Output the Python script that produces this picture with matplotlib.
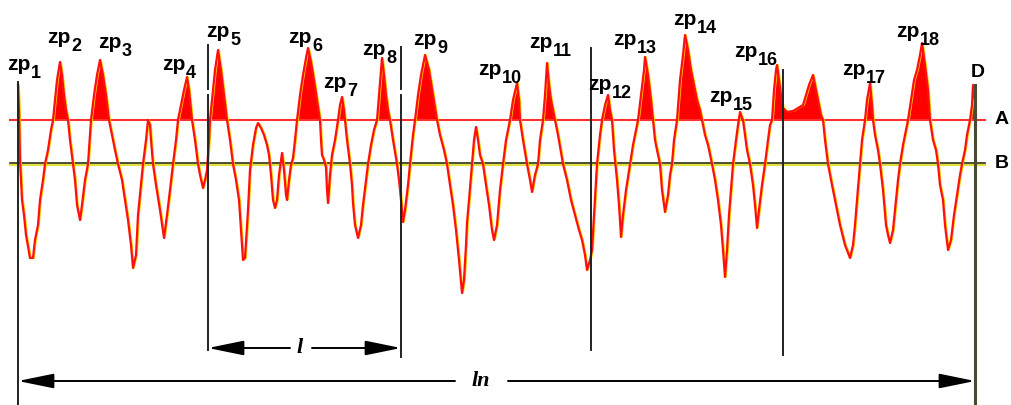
import matplotlib.pyplot as plt

# profile traced in picture pixels (x to the right, y downward)
profile_x = [18, 19, 20, 22, 24, 26, 30, 33, 35, 38, 40, 43, 45, 48, 51, 53, 55, 57, 60, 62, 64, 66, 68, 70, 73, 75, 77, 80,
             82, 85, 88, 90, 91, 94, 97, 100, 103, 106, 109, 112, 115, 118, 122, 125, 128, 131, 133, 136, 138, 141, 143,
             146, 148, 150, 151, 153, 156, 160, 164, 167, 170, 173, 176, 178, 181, 184, 187, 189, 191, 192, 195, 198,
             200, 203, 205, 207, 209, 210, 212, 215, 218, 221, 224, 227, 230, 233, 236, 239, 241, 243, 245, 248, 250,
             253, 256, 258, 261, 264, 267, 269, 271, 273, 275, 277, 279, 282, 284, 286, 287, 289, 291, 293, 295, 297,
             300, 303, 306, 308, 311, 314, 317, 320, 321, 322, 324, 326, 327, 328, 330, 332, 335, 338, 340, 342, 344,
             345, 347, 350, 352, 353, 355, 358, 361, 363, 366, 368, 371, 374, 377, 379, 381, 382, 384, 386, 388, 390,
             393, 397, 399, 401, 403, 405, 408, 410, 413, 415, 418, 421, 425, 429, 433, 437, 440, 444, 447, 450, 453,
             456, 459, 462, 464, 466, 467, 469, 472, 474, 476, 478, 480, 483, 486, 489, 492, 494, 497, 500, 503, 506,
             510, 513, 517, 519, 520, 523, 527, 530, 532, 535, 538, 540, 543, 545, 547, 549, 551, 553, 555, 558, 563,
             567, 571, 575, 579, 582, 585, 587, 590, 592, 594, 597, 600, 602, 605, 608, 610, 612, 614, 617, 619, 621,
             623, 626, 630, 633, 635, 638, 641, 644, 645, 648, 651, 653, 655, 657, 660, 662, 665, 668, 670, 672, 674,
             677, 680, 683, 685, 688, 691, 694, 697, 700, 702, 705, 708, 712, 715, 718, 721, 723, 725, 727, 729, 731,
             733, 736, 738, 740, 742, 743, 745, 747, 750, 753, 755, 757, 759, 762, 765, 768, 770, 772, 774, 776, 777,
             779, 781, 783, 787, 793, 798, 803, 806, 809, 813, 816, 819, 821, 823, 825, 828, 832, 836, 840, 845, 850,
             853, 855, 857, 860, 862, 865, 867, 870, 872, 873, 875, 878, 880, 883, 886, 888, 890, 893, 896, 898, 900,
             903, 906, 908, 911, 914, 917, 920, 922, 925, 928, 930, 933, 936, 938, 940, 943, 945, 948, 951, 954, 957,
             960, 962, 965, 967, 970, 972, 973, 975]
profile_y = [85, 110, 160, 200, 215, 235, 258, 258, 240, 225, 200, 180, 164, 150, 130, 120, 100, 80, 62, 75, 95, 110, 120,
             140, 164, 180, 205, 220, 205, 180, 164, 135, 120, 95, 75, 60, 75, 95, 120, 135, 150, 164, 180, 200, 220, 245,
             268, 255, 215, 185, 164, 140, 120, 125, 140, 164, 185, 210, 238, 215, 190, 164, 140, 120, 105, 90, 77, 90,
             110, 120, 140, 164, 175, 188, 180, 170, 140, 120, 100, 70, 50, 70, 95, 120, 140, 164, 180, 200, 230, 260,
             258, 210, 170, 145, 128, 123, 128, 135, 145, 155, 175, 200, 208, 200, 175, 153, 170, 195, 200, 180, 165,
             158, 140, 120, 95, 75, 58, 48, 62, 80, 100, 120, 140, 155, 160, 167, 190, 203, 175, 155, 140, 120, 105, 97,
             110, 120, 140, 164, 185, 203, 225, 238, 225, 205, 180, 164, 145, 130, 120, 95, 70, 58, 75, 95, 110, 120,
             140, 164, 180, 200, 222, 210, 185, 164, 135, 120, 95, 75, 55, 70, 95, 120, 135, 150, 164, 185, 205, 230,
             260, 293, 280, 245, 223, 200, 164, 140, 127, 140, 155, 164, 185, 205, 230, 240, 225, 190, 164, 140, 120,
             100, 83, 100, 120, 140, 164, 180, 192, 175, 164, 140, 120, 95, 63, 85, 100, 110, 120, 135, 164, 180, 200,
             215, 230, 240, 255, 270, 260, 250, 215, 164, 135, 120, 105, 95, 110, 120, 150, 180, 205, 237, 215, 190,
             164, 145, 135, 120, 95, 70, 57, 75, 100, 120, 140, 150, 164, 190, 212, 195, 175, 164, 140, 120, 80, 55, 35,
             50, 70, 85, 100, 110, 120, 135, 145, 164, 180, 200, 225, 250, 277, 250, 215, 190, 164, 140, 125, 112, 118,
             120, 135, 150, 164, 185, 205, 228, 210, 185, 164, 140, 125, 120, 90, 70, 65, 80, 95, 108, 112, 111, 108,
             105, 95, 85, 75, 90, 105, 115, 120, 140, 164, 185, 205, 225, 245, 258, 245, 225, 200, 164, 140, 120, 100,
             83, 105, 120, 135, 150, 164, 190, 225, 235, 243, 230, 200, 180, 164, 145, 130, 120, 100, 80, 70, 55, 43,
             65, 90, 120, 140, 150, 164, 185, 200, 225, 250, 240, 215, 195, 175, 164, 150, 135, 120, 105, 85, 100]

line_a = 120
line_b = 163

peak_names = ['1', '2', '3', '4', '5', '6', '7', '8', '9', '10', '11', '12', '13', '14', '15', '16', '17', '18']
peak_label_x = [7, 47, 98, 162, 206, 288, 323, 362, 413, 478, 529, 588, 613, 673, 709, 734, 842, 896]
peak_label_y = [70, 43, 48, 70, 37, 43, 88, 55, 45, 75, 48, 90, 45, 25, 102, 57, 75, 37]

# vertical section lines: x, top, bottom
sect_x = [18, 208, 401, 591, 783, 975]
sect_top = [82, 45, 47, 48, 70, 85]
sect_bot = [405, 350, 357, 350, 355, 405]

fig = plt.figure(figsize=(10.11, 4.05), dpi=100)
ax = fig.add_axes([0, 0, 1, 1])
ax.set_xlim(0, 1011)
ax.set_ylim(405, 0)
ax.axis('off')

# filled peaks above line A
ax.fill_between(profile_x, profile_y, line_a, where=[y < line_a for y in profile_y],
                interpolate=True, color='#ff0000', lw=0, zorder=2)

# lines A and B
ax.plot([10, 985], [line_a, line_a], color='#ff3030', lw=1.5, zorder=3)
ax.plot([10, 985], [line_b + 1.5, line_b + 1.5], color='#e0e040', lw=1.6, zorder=3)
ax.plot([10, 985], [line_b, line_b], color='#303010', lw=1.2, zorder=3)

# profile, with a faint yellow edge
ax.plot([x + 1.2 for x in profile_x], profile_y, color='#ffd000', lw=1.0, zorder=4)
ax.plot(profile_x, profile_y, color='#ff1010', lw=1.6, zorder=5)

# section lines
for i in range(len(sect_x)):
    lw = 2.2 if i == len(sect_x) - 1 else 1.4
    col = '#4a4a30' if i == len(sect_x) - 1 else '#222222'
    if i in (1, 2):
        ax.plot([sect_x[i], sect_x[i]], [sect_top[i], 89], color=col, lw=lw, zorder=6)
        ax.plot([sect_x[i], sect_x[i]], [95, sect_bot[i]], color=col, lw=lw, zorder=6)
    else:
        ax.plot([sect_x[i], sect_x[i]], [sect_top[i], sect_bot[i]], color=col, lw=lw, zorder=6)

# peak labels
for name, lx, ly in zip(peak_names, peak_label_x, peak_label_y):
    ax.text(lx, ly, 'zp', fontsize=15, fontweight='bold', family='Liberation Sans',
            ha='left', va='baseline', zorder=7)
    ax.text(lx + 24, ly + 8, name, fontsize=13, fontweight='bold', family='Liberation Sans',
            ha='left', va='baseline', zorder=7)

ax.text(978, 77, 'D', fontsize=14, fontweight='bold', family='Liberation Sans', ha='center', va='baseline')
ax.text(995, 120, 'A', fontsize=14, fontweight='bold', family='Liberation Sans', ha='left', va='center')
ax.text(995, 163, 'B', fontsize=14, fontweight='bold', family='Liberation Sans', ha='left', va='center')

# dimension arrows
arrow_style = dict(arrowstyle='-|>,head_length=2.2,head_width=0.45', color='black', lw=1.4,
                   shrinkA=0, shrinkB=0)
l_y = 348
ax.annotate('', xy=(208, l_y), xytext=(290, l_y), arrowprops=arrow_style)
ax.annotate('', xy=(401, l_y), xytext=(312, l_y), arrowprops=arrow_style)
ax.text(300, l_y, 'l', fontsize=16, fontstyle='italic', fontweight='bold', family='Liberation Serif',
        ha='center', va='center')

ln_y = 381
ax.annotate('', xy=(18, ln_y), xytext=(455, ln_y), arrowprops=arrow_style)
ax.annotate('', xy=(975, ln_y), xytext=(508, ln_y), arrowprops=arrow_style)
ax.text(481, ln_y, 'ln', fontsize=16, fontstyle='italic', fontweight='bold', family='Liberation Serif',
        ha='center', va='center')

fig.savefig('out.png', dpi=100)
